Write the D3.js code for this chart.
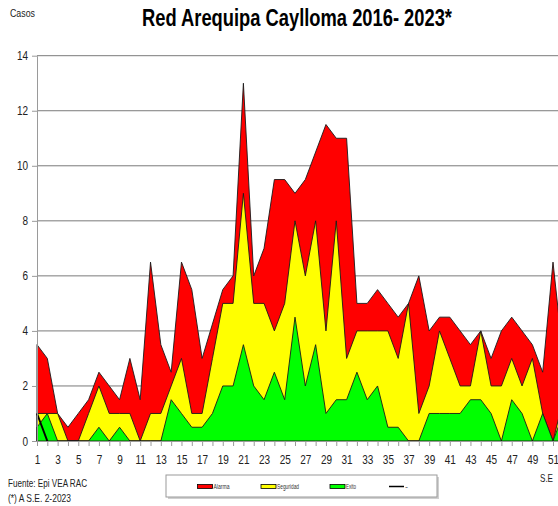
<!DOCTYPE html>
<html><head><meta charset="utf-8">
<script src="https://cdn.jsdelivr.net/npm/d3@7"></script>
<style>
body{margin:0;background:#fff;overflow:hidden}
svg{display:block}
text{font-family:"Liberation Sans",Arial,sans-serif}
</style>
</head><body>
<svg id="c" width="558" height="506"></svg>
<script>
// ---- data ----
const weeks = d3.range(1, 53);
const alarma = [3.5,3,1,0.5,1,1.5,2.5,2,1.5,3,1.5,6.5,3.5,2.5,6.5,5.5,3,4.25,5.5,6,13,6,7,9.5,9.5,9,9.5,10.5,11.5,11,11,5,5,5.5,5,4.5,5,6,4,4.5,4.5,4,3.5,4,3,4,4.5,4,3.5,2.5,6.5,3];
const seguridad = [1,1,1,0,0,1,2,1,1,1,0,1,1,2,3,1,1,3,5,5,9,5,5,4,5,8,6,8,4,8,3,4,4,4,4,3,5,1,2,4,3,2,2,4,2,2,3,2,3,1,0,1.5];
const exito = [0.5,1,0,0,0,0,0.5,0,0.5,0,0,0,0,1.5,1,0.5,0.5,1,2,2,3.5,2,1.5,2.5,1.5,4.5,2,3.5,1,1.5,1.5,2.5,1.5,2,0.5,0.5,0,0,1,1,1,1,1.5,1.5,1,0,1.5,1,0,1,0,1];
const actualWeeks = [1, 2];
const actual = [1, 0];
const yTicks = [0,2,4,6,8,10,12,14];
const seriesNames = ["Alarma","Seguridad","Exito","-"];
const seriesColors = ["#ff0000","#ffff00","#00ff00","#000000"];

// ---- chart ----
const svg = d3.select("#c");
const x = d3.scaleLinear().domain([1, 52]).range([37, 37 + 51 * 10.32]);
const y = d3.scaleLinear().domain([0, 14]).range([441, 55.7]);
const NAR = 0.8;

// gridlines
svg.append("g").selectAll("line").data(yTicks.filter(d => d > 0)).join("line")
  .attr("x1", 37).attr("x2", 560)
  .attr("y1", d => y(d)).attr("y2", d => y(d))
  .attr("stroke", "#7a7a7a").attr("stroke-width", 1);

// areas
const areaGen = d3.area().x((d, i) => x(weeks[i])).y0(y(0)).y1(d => y(d));
[[alarma, seriesColors[0]], [seguridad, seriesColors[1]], [exito, seriesColors[2]]].forEach(([v, c]) => {
  svg.append("path").attr("d", areaGen(v)).attr("fill", c)
    .attr("stroke", "#1a1a1a").attr("stroke-width", 0.9).attr("stroke-linejoin", "miter");
});

// current year line
svg.append("path")
  .attr("d", d3.line().x((d, i) => x(actualWeeks[i])).y(d => y(d))(actual))
  .attr("fill", "none").attr("stroke", "#000").attr("stroke-width", 2);

// y axis
const gy = svg.append("g").attr("transform", "translate(37,0)")
  .call(d3.axisLeft(y).tickValues(yTicks).tickSize(5).tickSizeOuter(0).tickPadding(4));
gy.select(".domain").attr("stroke", "#9a9a9a");
gy.selectAll(".tick line").attr("stroke", "#9a9a9a");
gy.selectAll(".tick text").attr("font-size", 12.5).attr("fill", "#222")
  .attr("x", -9 / NAR).attr("transform", `scale(${NAR},1)`);

// x axis
const gx = svg.append("g").attr("transform", `translate(0,${y(0)})`)
  .call(d3.axisBottom(x).tickValues(weeks).tickSize(5).tickSizeOuter(0).tickPadding(9)
    .tickFormat(d => d % 2 ? d : ""));
gx.select(".domain").attr("stroke", "#9a9a9a");
gx.selectAll(".tick line").attr("stroke", "#9a9a9a");
gx.selectAll(".tick text").attr("font-size", 12.5).attr("fill", "#222")
  .attr("transform", `scale(${NAR},1)`);

// texts
function ntext(t, px, py, size, opts = {}) {
  const el = svg.append("text").text(t)
    .attr("x", px).attr("y", py).attr("font-size", size).attr("fill", opts.fill || "#222");
  if (opts.bold) el.attr("font-weight", "bold");
  if (opts.len) el.attr("textLength", opts.len).attr("lengthAdjust", "spacingAndGlyphs");
  if (opts.anchor) el.attr("text-anchor", opts.anchor);
  return el;
}
ntext("Red Arequipa Caylloma 2016- 2023*", 142, 26, 24, {bold: true, len: 310, fill: "#000"});
ntext("Casos", 10, 17, 10.5, {len: 25});
ntext("S.E", 540, 482, 11, {len: 13});
ntext("Fuente: Epi VEA RAC", 8, 487, 11, {len: 79});
ntext("(*) A S.E. 2-2023", 8, 502, 10.5, {len: 63});

// legend
const lg = svg.append("g");
lg.append("rect").attr("x", 168).attr("y", 477).attr("width", 271).attr("height", 22).attr("fill", "#d0d0d0");
lg.append("rect").attr("x", 166).attr("y", 475).attr("width", 271).attr("height", 22)
  .attr("fill", "#fff").attr("stroke", "#9a9a9a").attr("stroke-width", 1);
const lx = [197.5, 261, 330, 389];
const lw = [16, 22, 10, 3];
seriesNames.forEach((n, i) => {
  if (i < 3) {
    lg.append("rect").attr("x", lx[i]).attr("y", 484.5).attr("width", 15).attr("height", 4)
      .attr("fill", seriesColors[i]).attr("stroke", "#000").attr("stroke-width", 0.8);
  } else {
    lg.append("line").attr("x1", lx[i]).attr("x2", lx[i] + 15).attr("y1", 486.5).attr("y2", 486.5)
      .attr("stroke", "#000").attr("stroke-width", 1.5);
  }
  lg.append("text").text(n).attr("x", lx[i] + 16).attr("y", 489).attr("font-size", 7)
    .attr("fill", "#333").attr("textLength", lw[i]).attr("lengthAdjust", "spacingAndGlyphs");
});
</script>
</body></html>
